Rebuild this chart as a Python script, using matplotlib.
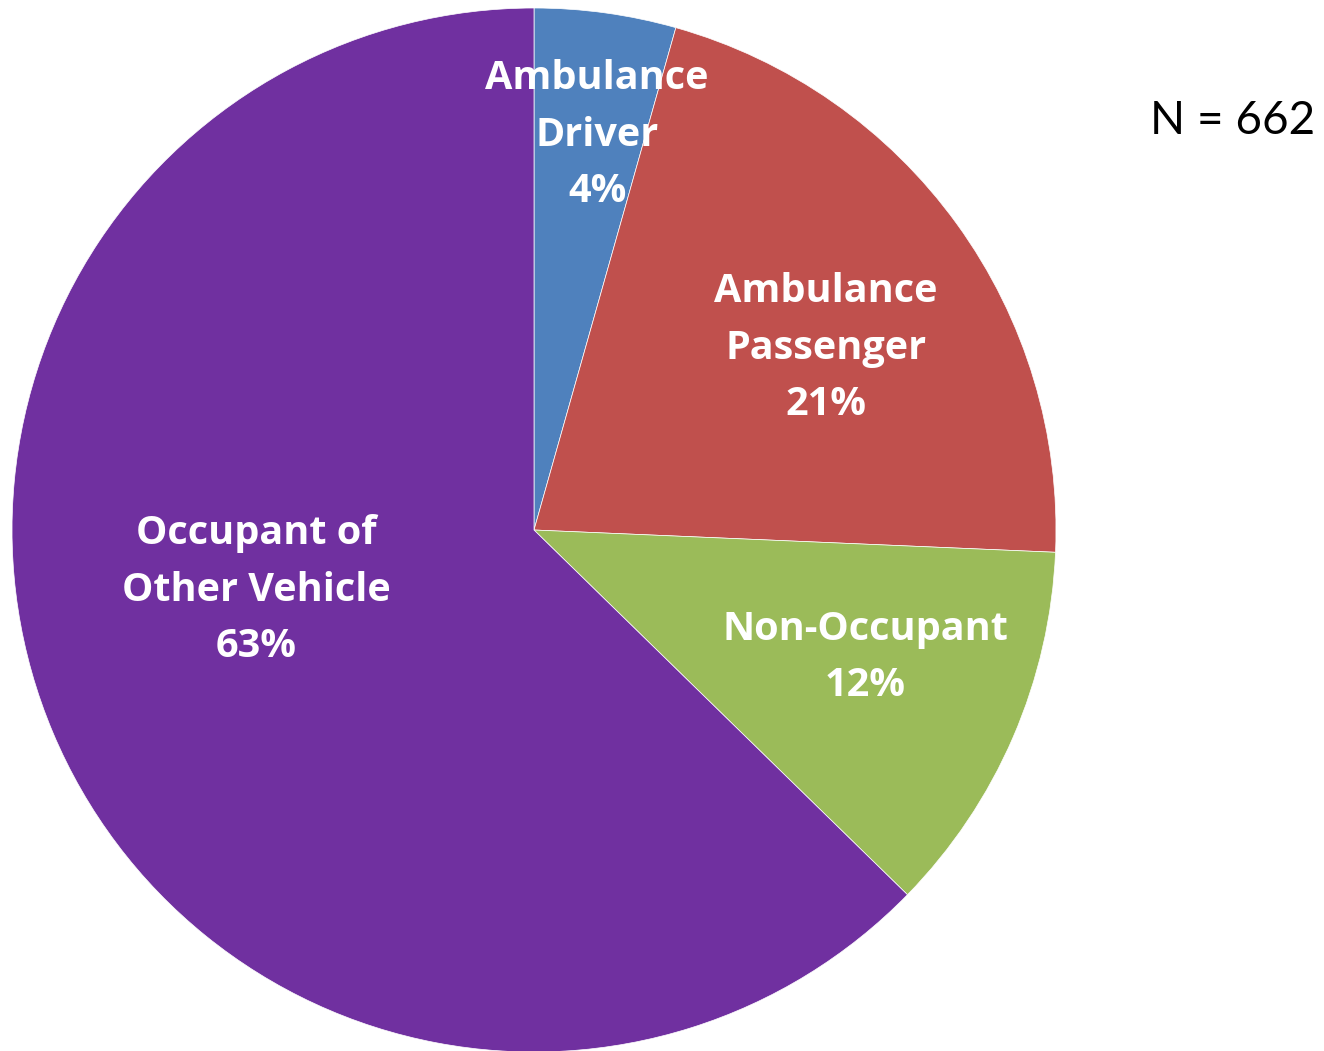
import matplotlib
matplotlib.use("Agg")
import matplotlib.pyplot as plt
import numpy as np

categories = ["Ambulance\nDriver", "Ambulance\nPassenger", "Non-Occupant", "Occupant of\nOther Vehicle"]
counts = [29, 141, 77, 415]
pct_labels = ["4%", "21%", "12%", "63%"]
n_label = "N = 662"

colors = ["#4F81BD", "#C0504D", "#9BBB59", "#7030A0"]
# label placement (radius fraction, angle in degrees clockwise from top)
label_pos = [(0.766, 9.1), (0.659, 58.1), (0.68, 111.0), (0.545, 257.8)]

W, H = 1324, 1051
cx, cy, R = 534, 530, 522

fig = plt.figure(figsize=(W / 100, H / 100), dpi=100)
ax = fig.add_axes([0, 0, 1, 1])
ax.pie(counts, colors=colors, startangle=90, counterclock=False, radius=1.0,
       wedgeprops=dict(linewidth=0.5, edgecolor="white"))
ax.set_xlim(-cx / R, (W - cx) / R)
ax.set_ylim(-(H - cy) / R, cy / R)
ax.set_aspect("auto")
ax.axis("off")

for cat, pct, (r, ang) in zip(categories, pct_labels, label_pos):
    a = np.deg2rad(ang)
    x, y = r * np.sin(a), r * np.cos(a)
    ax.text(x, y, cat + "\n" + pct, ha="center", va="center", color="white",
            fontsize=28.5, fontweight="bold", family=["Open Sans", "DejaVu Sans"],
            linespacing=1.58)

fig.text(1233 / W, 1 - 121 / H, n_label, ha="center", va="center",
         fontsize=33, family=["Lato", "DejaVu Sans"], color="black")

fig.savefig("out.png", dpi=100)
